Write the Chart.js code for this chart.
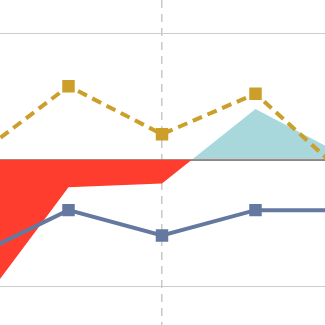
<!DOCTYPE html>
<html>
<head>
<meta charset="utf-8">
<script src="https://cdn.jsdelivr.net/npm/chart.js@4"></script>
<style>
  html, body { margin: 0; padding: 0; background: #fff; }
  #wrap { position: relative; width: 325px; height: 325px; overflow: hidden; }
  #inner { position: absolute; left: -25px; top: 0; width: 374px; height: 325px; }
</style>
</head>
<body>
<div id="wrap"><div id="inner"><canvas id="chLine"></canvas></div></div>
<script>
// chart data
var categories = ['A', 'B', 'C', 'D', 'E'];
var areaValues = [-1.21, -0.22, -0.19, 0.40, 0.01];
var goldValues = [0.02, 0.58, 0.20, 0.52, -0.15];
var blueValues = [-0.76, -0.40, -0.60, -0.40, -0.40];

// colors
var red = '#ff3d2f';
var teal = '#a8d8dc';
var gold = '#cc9e2a';
var blue = '#6579a0';

new Chart(document.getElementById('chLine'), {
  type: 'line',
  data: {
    labels: categories,
    datasets: [
      {
        data: goldValues,
        borderColor: gold,
        backgroundColor: gold,
        borderWidth: 4,
        borderDash: [10, 6],
        pointStyle: 'rect',
        pointRadius: 6,
        fill: false,
        order: 1
      },
      {
        data: blueValues,
        borderColor: blue,
        backgroundColor: blue,
        borderWidth: 4,
        pointStyle: 'rect',
        pointRadius: 6,
        fill: false,
        order: 2
      },
      {
        data: areaValues,
        borderWidth: 0,
        pointRadius: 0,
        fill: { target: 'origin', above: teal, below: red },
        order: 3
      }
    ]
  },
  options: {
    responsive: true,
    maintainAspectRatio: false,
    animation: false,
    layout: { padding: 0, autoPadding: false },
    plugins: {
      legend: { display: false },
      tooltip: { enabled: false }
    },
    scales: {
      x: {
        offset: false,
        ticks: { display: false },
        border: { display: false, dash: [8, 6] },
        grid: {
          drawTicks: false,
          lineWidth: 1.5,
          color: function (ctx) {
            return ctx.index === 2 ? '#c8c8c8' : 'rgba(0,0,0,0)';
          }
        }
      },
      y: {
        min: -1.308,
        max: 1.261,
        ticks: { display: false, stepSize: 1, includeBounds: false },
        border: { display: false },
        grid: {
          drawTicks: false,
          color: function (ctx) {
            return ctx.tick && ctx.tick.value === 0 ? '#888888' : '#cccccc';
          },
          lineWidth: function (ctx) {
            return ctx.tick && ctx.tick.value === 0 ? 2 : 1;
          }
        }
      }
    }
  }
});
</script>
</body>
</html>
